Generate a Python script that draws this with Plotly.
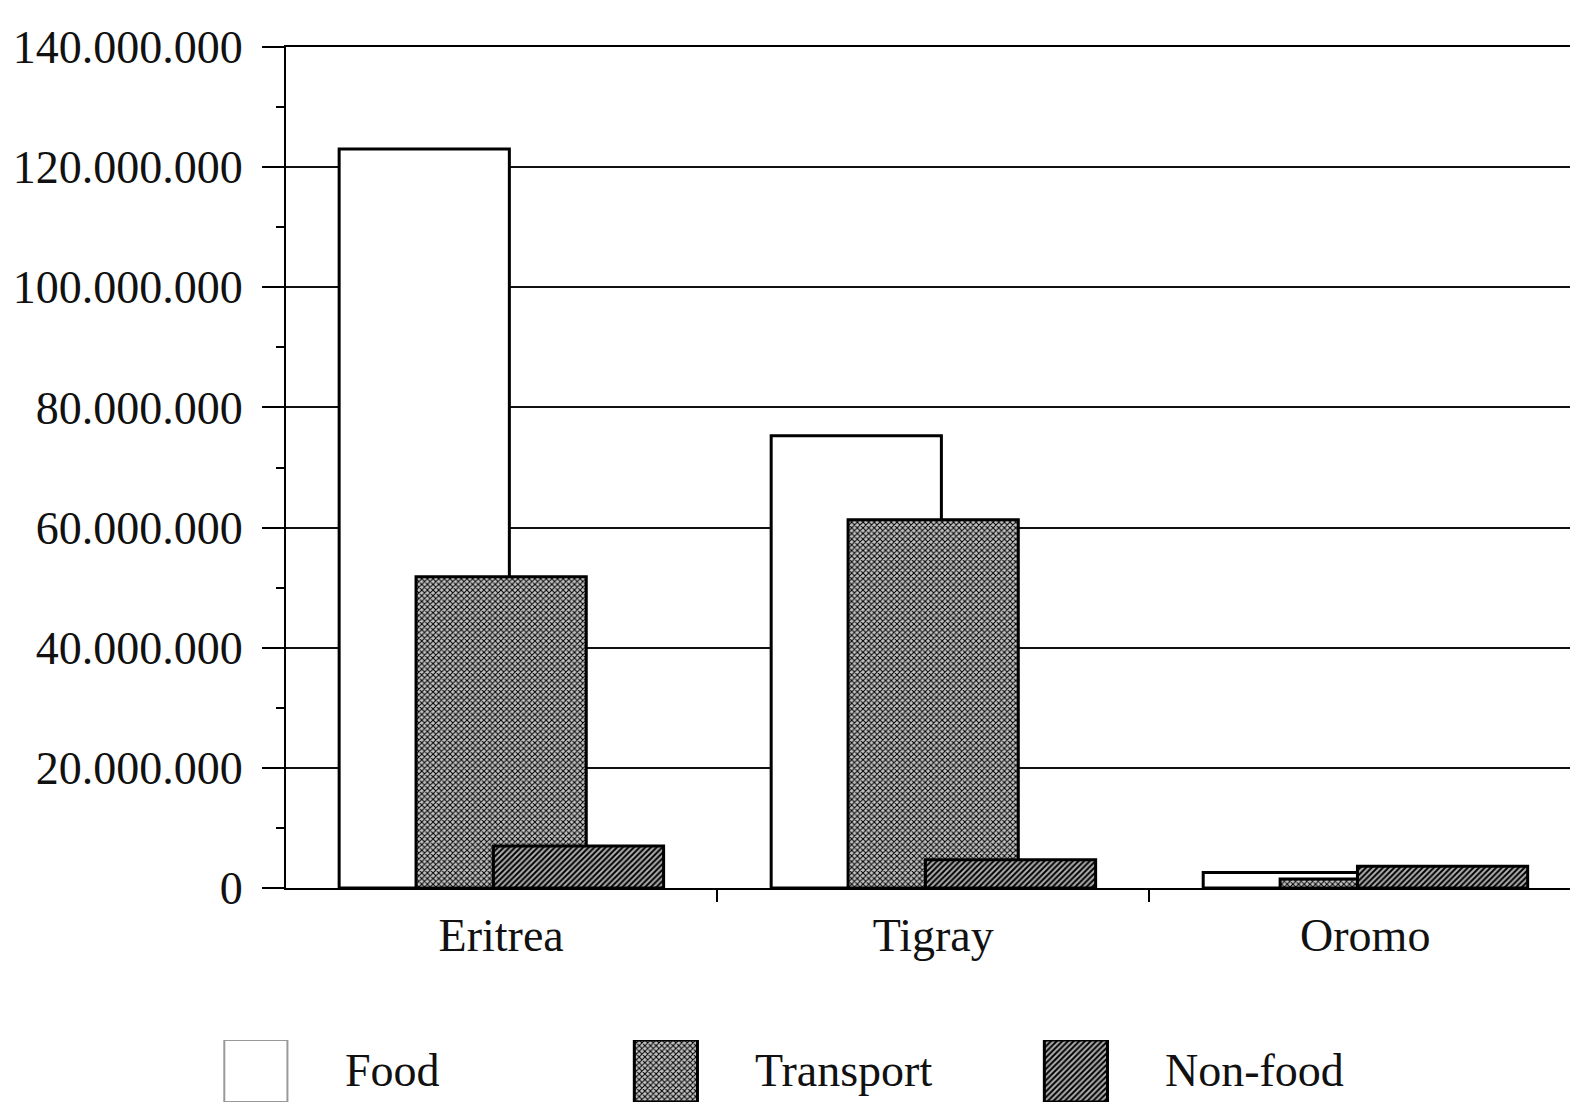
import plotly.graph_objects as go

# Relief expenditure by region and category
regions = ["Eritrea", "Tigray", "Oromo"]
food = [123_000_000, 75_300_000, 2_600_000]
transport = [51_800_000, 61_300_000, 1_500_000]
non_food = [7_000_000, 4_700_000, 3_600_000]

series_names = ["Food", "Transport", "Non-food"]

y_tickvals = [0, 20_000_000, 40_000_000, 60_000_000, 80_000_000,
              100_000_000, 120_000_000, 140_000_000]
y_ticktext = ["0", "20.000.000", "40.000.000", "60.000.000", "80.000.000",
              "100.000.000", "120.000.000", "140.000.000"]

FONT = "Liberation Serif"
BAR_W = 0.394
OFFSETS = [-0.375, -0.197, -0.018]

styles = [
    dict(color="white", line=dict(color="black", width=3)),
    dict(color="white", line=dict(color="black", width=3),
         pattern=dict(shape="x", fgcolor="#000", bgcolor="#c4c4c4",
                      size=4, solidity=0.45, fillmode="replace")),
    dict(color="white", line=dict(color="black", width=3),
         pattern=dict(shape="/", fgcolor="#000", bgcolor="#b0b0b0",
                      size=4, solidity=0.5, fillmode="replace")),
]

fig = go.Figure()

for name, vals, off, st in zip(series_names, [food, transport, non_food], OFFSETS, styles):
    fig.add_trace(go.Bar(
        x=regions, y=vals, name=name,
        width=[BAR_W] * len(regions), offset=[off] * len(regions),
        marker=st, showlegend=False,
    ))

# legend swatches on their own small axes at the bottom
legend_styles = [
    dict(color="white", line=dict(color="#999", width=2)),
    styles[1], styles[2],
]
for name, st in zip(series_names, legend_styles):
    fig.add_trace(go.Bar(
        x=[name], y=[1], xaxis="x2", yaxis="y2", width=[0.154],
        marker=st, showlegend=False, hoverinfo="skip",
    ))
    fig.add_annotation(
        x=series_names.index(name) + 0.213, xref="x2",
        y=0.029, yref="paper", text=name, showarrow=False,
        xanchor="left", yanchor="middle",
        font=dict(family=FONT, size=46, color="#111"),
    )

fig.update_layout(
    width=1570, height=1102,
    margin=dict(l=0, r=0, t=0, b=0),
    paper_bgcolor="white", plot_bgcolor="white",
    barmode="overlay",
    font=dict(family=FONT, color="#111"),
    xaxis=dict(
        domain=[286 / 1570, 1], type="category",
        categoryorder="array", categoryarray=regions,
        range=[-0.498, 2.474],
        showline=True, mirror=True, linecolor="black", linewidth=2,
        ticks="outside", tickson="boundaries", ticklen=12, tickwidth=2,
        tickcolor="black", showgrid=False,
        tickfont=dict(family=FONT, size=46, color="#111"),
        ticklabelstandoff=6, automargin=False,
    ),
    yaxis=dict(
        domain=[(1102 - 888) / 1102, (1102 - 47) / 1102],
        range=[0, 140_000_000],
        tickvals=y_tickvals, ticktext=y_ticktext,
        showline=True, linecolor="black", linewidth=2,
        ticks="outside", ticklen=22, tickwidth=2, tickcolor="black",
        minor=dict(dtick=10_000_000, ticks="outside", ticklen=8,
                   tickwidth=2, tickcolor="black", showgrid=False),
        showgrid=True, gridcolor="#111", gridwidth=2,
        zeroline=False,
        tickfont=dict(family=FONT, size=46, color="#111"),
        ticklabelstandoff=10, automargin=False,
    ),
    xaxis2=dict(
        domain=[0, 1], anchor="y2", type="category",
        categoryorder="array", categoryarray=series_names,
        range=[-0.624, 3.205], visible=False,
    ),
    yaxis2=dict(
        domain=[0, 62 / 1102], anchor="x2", range=[0, 1], visible=False,
    ),
)

fig.write_html("out.html")
